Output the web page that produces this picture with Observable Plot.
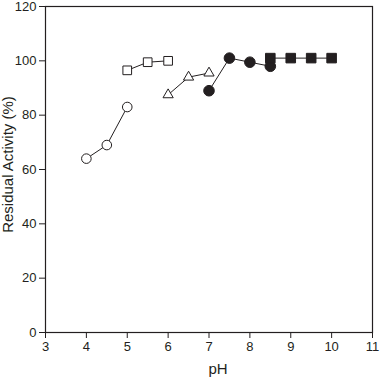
<!DOCTYPE html>
<html><head><meta charset="utf-8">
<script src="https://cdn.jsdelivr.net/npm/d3@7"></script>
<script src="https://cdn.jsdelivr.net/npm/@observablehq/plot@0.6"></script>
<style>
body{margin:0;background:#fff}
</style>
</head><body><div id="chart"></div>
<script>
// Series data (pH, residual activity %)
const openCirclePH = [4, 4.5, 5];
const openCircleRA = [64, 69, 83];
const openSquarePH = [5, 5.5, 6];
const openSquareRA = [96.5, 99.5, 100];
const openTrianglePH = [6, 6.5, 7];
const openTriangleRA = [87.5, 94, 95.5];
const filledCirclePH = [7, 7.5, 8, 8.5];
const filledCircleRA = [89, 101, 99.5, 98];
const filledSquarePH = [8.5, 9, 9.5, 10];
const filledSquareRA = [101, 101, 101, 101];

const xTicks = [3, 4, 5, 6, 7, 8, 9, 10, 11];
const yTicks = [0, 20, 40, 60, 80, 100, 120];
const xLabel = "pH";
const yLabel = "Residual Activity (%)";

const ink = "#231f20";
const mk = (ph, ra, s) => ph.map((x, i) => ({x, y: ra[i], s}));
const oc = mk(openCirclePH, openCircleRA, "oc");
const os = mk(openSquarePH, openSquareRA, "os");
const ot = mk(openTrianglePH, openTriangleRA, "ot");
const fc = mk(filledCirclePH, filledCircleRA, "fc");
const fs = mk(filledSquarePH, filledSquareRA, "fs");
const all = [...oc, ...os, ...ot, ...fc, ...fs];

const chart = Plot.plot({
  width: 385,
  height: 380,
  marginLeft: 45,
  marginRight: 13,
  marginTop: 6,
  marginBottom: 48,
  style: {fontFamily: "Liberation Sans, Arial, sans-serif", fontSize: "13px", color: ink, background: "#fff"},
  x: {domain: [3, 11], ticks: xTicks, tickSize: 6, tickPadding: 3, label: xLabel, labelAnchor: "center", labelArrow: "none", labelOffset: 41},
  y: {domain: [0, 120], ticks: yTicks, tickSize: 6, tickPadding: 3, label: yLabel, labelAnchor: "center", labelArrow: "none", labelOffset: 43},
  marks: [
    Plot.frame({stroke: ink, strokeWidth: 1.2}),
    Plot.line(all, {x: "x", y: "y", z: "s", stroke: ink, strokeWidth: 1}),
    Plot.dot(oc, {x: "x", y: "y", symbol: "circle", r: 4.8, fill: "white", stroke: ink, strokeWidth: 1}),
    Plot.dot(os, {x: "x", y: "y", symbol: "square", r: 4.9, fill: "white", stroke: ink, strokeWidth: 1}),
    Plot.dot(ot, {x: "x", y: "y", symbol: "triangle", r: 3.8, fill: "white", stroke: ink, strokeWidth: 1}),
    Plot.dot(fc, {x: "x", y: "y", symbol: "circle", r: 5.3, fill: ink, stroke: ink, strokeWidth: 1}),
    Plot.dot(fs, {x: "x", y: "y", symbol: "square", r: 5.4, fill: ink, stroke: ink, strokeWidth: 1})
  ]
});
chart.querySelectorAll("text").forEach(t => {
  const s = t.textContent.trim();
  if (s === xLabel) {
    t.setAttribute("font-size", "15");
    t.style.fontSize = "15px";
    t.setAttribute("dx", "9");
  } else if (s === yLabel) {
    t.setAttribute("font-size", "15");
    t.style.fontSize = "15px";
    t.setAttribute("dx", "5");
  }
});
document.getElementById("chart").appendChild(chart);
</script>
</body></html>
